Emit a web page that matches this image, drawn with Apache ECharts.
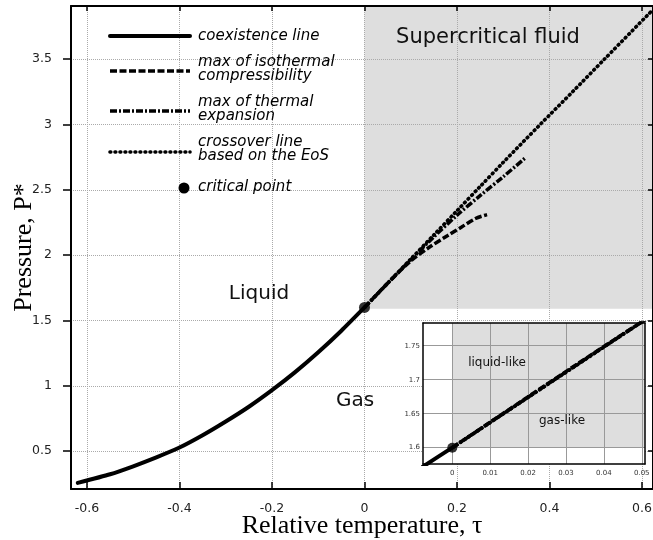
<!DOCTYPE html>
<html>
<head>
<meta charset="utf-8">
<script src="https://cdn.jsdelivr.net/npm/echarts@6/dist/echarts.min.js"></script>
<style>
  html, body { margin: 0; padding: 0; background: #fff; }
  #chart { width: 653px; height: 540px; }
</style>
</head>
<body>
<div id="chart"></div>
<script>
// coexistence line, tau <= 0
const coexTau = [-0.62, -0.55, -0.5, -0.45, -0.4, -0.35, -0.3, -0.25, -0.2, -0.15, -0.1, -0.05, 0]
const coexP = [0.258, 0.324, 0.385, 0.453, 0.528, 0.622, 0.727, 0.84, 0.967, 1.105, 1.257, 1.422, 1.6]

// max of isothermal compressibility
const compTau = [0, 0.05, 0.1, 0.14, 0.18, 0.21, 0.24, 0.265]
const compP = [1.6, 1.785, 1.955, 2.06, 2.15, 2.215, 2.28, 2.31]

// max of thermal expansion
const thermTau = [0, 0.05, 0.1, 0.15, 0.2, 0.25, 0.3, 0.348]
const thermP = [1.6, 1.785, 1.965, 2.14, 2.305, 2.455, 2.6, 2.745]

// crossover line based on the EoS
const crossTau = [0, 0.05, 0.1, 0.15, 0.2, 0.25, 0.3, 0.38, 0.45, 0.519, 0.62]
const crossP = [1.6, 1.785, 1.97, 2.155, 2.34, 2.525, 2.71, 3.0, 3.25, 3.5, 3.865]

// critical point
const critical = [0, 1.6]

// axis ticks
const tauTicks = [-0.6, -0.4, -0.2, 0, 0.2, 0.4, 0.6]
const pTicks = [0.5, 1, 1.5, 2, 2.5, 3, 3.5]
const insetTauTicks = [0, 0.01, 0.02, 0.03, 0.04, 0.05]
const insetPTicks = [1.6, 1.65, 1.7, 1.75]

// axis ranges
const TAU_MIN = -0.6346
const TAU_MAX = 0.6238
const P_MIN = 0.211
const P_MAX = 3.906
const IN_TAU_MIN = -0.00773
const IN_TAU_MAX = 0.05085
const IN_P_MIN = 1.576
const IN_P_MAX = 1.7834

const pairs = (xs, ys) => xs.map((x, i) => [x, ys[i]])

const styles = {
  coex: { color: '#000', width: 4, type: 'solid', cap: 'round' },
  comp: { color: '#000', width: 3.5, type: [7, 2.5], cap: 'butt' },
  therm: { color: '#000', width: 3.5, type: [7, 2, 2, 2], cap: 'butt' },
  cross: { color: '#000', width: 3.6, type: [0.8, 4.2], cap: 'round' }
}

const serif = 'Liberation Serif'
const sans = 'DejaVu Sans'

function lineSeries(name, data, style, xi, yi, z, smooth) {
  return {
    name,
    type: 'line',
    xAxisIndex: xi,
    yAxisIndex: yi,
    data,
    smooth: smooth || false,
    showSymbol: false,
    silent: true,
    z,
    lineStyle: style
  }
}

function shadeSeries(xi, yi, z, box) {
  return {
    type: 'line',
    xAxisIndex: xi,
    yAxisIndex: yi,
    data: [],
    silent: true,
    z,
    markArea: {
      silent: true,
      z,
      itemStyle: { color: '#dedede' },
      data: [[{ coord: box[0] }, { coord: box[1] }]]
    }
  }
}

function curveSet(xi, yi, z, dot) {
  return [
    lineSeries('coexistence line', pairs(coexTau, coexP), styles.coex, xi, yi, z, 0.2),
    lineSeries('max of isothermal compressibility', pairs(compTau, compP), styles.comp, xi, yi, z + 1, 0.3),
    lineSeries('max of thermal expansion', pairs(thermTau, thermP), styles.therm, xi, yi, z + 1, 0.3),
    lineSeries('crossover line based on the EoS', pairs(crossTau, crossP), styles.cross, xi, yi, z + 2, 0.3),
    {
      name: 'critical point',
      type: 'scatter',
      xAxisIndex: xi,
      yAxisIndex: yi,
      data: [critical],
      symbolSize: dot,
      silent: true,
      z: z + 3,
      itemStyle: { color: '#000' }
    }
  ]
}

const chart = echarts.init(document.getElementById('chart'))

const mainLabel = { fontFamily: sans, fontSize: 12.5, color: '#222' }
const insetLabel = { fontFamily: sans, fontSize: 7, color: '#333' }
const black = (w) => ({ onZero: false, lineStyle: { color: '#000', width: w } })

// legend drawn as plain graphics
const legendRows = [
  { key: 'coex', y: 36, text: 'coexistence line', ty: 36 },
  { key: 'comp', y: 71, text: 'max of isothermal\ncompressibility', ty: 69.5 },
  { key: 'therm', y: 111, text: 'max of thermal\nexpansion', ty: 109 },
  { key: 'cross', y: 152, text: 'crossover line\nbased on the EoS', ty: 149.5 }
]
const legendGraphics = []
legendRows.forEach(r => {
  const s = styles[r.key]
  legendGraphics.push({
    type: 'line',
    z: 30,
    shape: { x1: 110, y1: r.y, x2: 190, y2: r.y },
    style: { stroke: '#000', lineWidth: s.width, lineDash: s.type === 'solid' ? null : s.type, lineCap: s.cap }
  })
  legendGraphics.push({
    type: 'text',
    z: 30,
    x: 198,
    y: r.ty,
    style: { text: r.text, font: 'italic 15px "DejaVu Sans"', fill: '#000', verticalAlign: 'middle', lineHeight: 14 }
  })
})
legendGraphics.push({ type: 'circle', z: 30, shape: { cx: 184, cy: 188, r: 5.5 }, style: { fill: '#000' } })
legendGraphics.push({
  type: 'text', z: 30, x: 198, y: 187,
  style: { text: 'critical point', font: 'italic 15px "DejaVu Sans"', fill: '#000', verticalAlign: 'middle' }
})

const regionText = (text, x, y, size) => ({
  type: 'text', z: 30, x, y,
  style: { text, font: size + 'px "DejaVu Sans"', fill: '#111', align: 'center', verticalAlign: 'middle' }
})

chart.setOption({
  animation: false,
  backgroundColor: '#fff',
  grid: [
    { left: 71, right: 0, top: 6, bottom: 51, outerBoundsMode: 'none' },
    { left: 423, top: 323, width: 222, height: 141, show: true, backgroundColor: '#fff', borderWidth: 0, z: 6, outerBoundsMode: 'none' }
  ],
  xAxis: [
    {
      gridIndex: 0, type: 'value', min: TAU_MIN, max: TAU_MAX, z: 3,
      name: 'Relative temperature, τ', nameLocation: 'middle', nameGap: 24, nameMoveOverlap: false,
      nameTextStyle: { fontFamily: serif, fontSize: 26, color: '#000' },
      axisLine: black(2),
      axisTick: { inside: true, length: 7, customValues: tauTicks, lineStyle: { color: '#000', width: 1.5 } },
      axisLabel: Object.assign({ customValues: tauTicks, margin: 13 }, mainLabel),
      splitLine: { show: true, lineStyle: { color: '#aaa', width: 1, type: [1, 1] } }
    },
    {
      gridIndex: 0, type: 'value', position: 'top', min: TAU_MIN, max: TAU_MAX, z: 3,
      axisLine: black(2),
      axisTick: { inside: true, length: 5, customValues: tauTicks, lineStyle: { color: '#000', width: 1.5 } },
      axisLabel: { show: false },
      splitLine: { show: false }
    },
    {
      gridIndex: 1, type: 'value', min: IN_TAU_MIN, max: IN_TAU_MAX, z: 8,
      axisLine: black(1.5),
      axisTick: { show: false, customValues: insetTauTicks },
      axisLabel: Object.assign({ customValues: insetTauTicks, margin: 6 }, insetLabel),
      splitLine: { show: true, lineStyle: { color: '#999', width: 1 } }
    },
    {
      gridIndex: 1, type: 'value', position: 'top', min: IN_TAU_MIN, max: IN_TAU_MAX, z: 8,
      axisLine: black(1.5), axisTick: { show: false }, axisLabel: { show: false }, splitLine: { show: false }
    }
  ],
  yAxis: [
    {
      gridIndex: 0, type: 'value', min: P_MIN, max: P_MAX, z: 3,
      name: 'Pressure, P*', nameLocation: 'middle', nameGap: 34, nameMoveOverlap: false,
      nameTextStyle: { fontFamily: serif, fontSize: 26, color: '#000' },
      axisLine: black(2),
      axisTick: { inside: false, length: 8, customValues: pTicks, lineStyle: { color: '#000', width: 1.5 } },
      axisLabel: Object.assign({ customValues: pTicks, margin: 19 }, mainLabel),
      splitLine: { show: true, lineStyle: { color: '#aaa', width: 1, type: [1, 1] } }
    },
    {
      gridIndex: 0, type: 'value', position: 'right', min: P_MIN, max: P_MAX, z: 3,
      axisLine: black(2),
      axisTick: { inside: true, length: 5, customValues: pTicks, lineStyle: { color: '#000', width: 1.5 } },
      axisLabel: { show: false },
      splitLine: { show: false }
    },
    {
      gridIndex: 1, type: 'value', min: IN_P_MIN, max: IN_P_MAX, z: 8,
      axisLine: black(1.5),
      axisTick: { show: false, customValues: insetPTicks },
      axisLabel: Object.assign({ customValues: insetPTicks, margin: 3 }, insetLabel),
      splitLine: { show: true, lineStyle: { color: '#999', width: 1 } }
    },
    {
      gridIndex: 1, type: 'value', position: 'right', min: IN_P_MIN, max: IN_P_MAX, z: 8,
      axisLine: black(1.5), axisTick: { show: false }, axisLabel: { show: false }, splitLine: { show: false }
    }
  ],
  series: [
    shadeSeries(0, 0, 1, [[0, 1.59], [TAU_MAX, P_MAX]]),
    ...curveSet(0, 0, 4, 11),
    shadeSeries(2, 2, 7, [[0, 1.6], [IN_TAU_MAX, IN_P_MAX]]),
    ...curveSet(2, 2, 9, 10)
  ],
  graphic: [
    ...legendGraphics,
    regionText('Supercritical fluid', 488, 38, 21),
    regionText('Liquid', 259, 294, 20),
    regionText('Gas', 355, 401, 20),
    regionText('liquid-like', 497, 363, 12),
    regionText('gas-like', 562, 421, 12)
  ]
})
</script>
</body>
</html>
